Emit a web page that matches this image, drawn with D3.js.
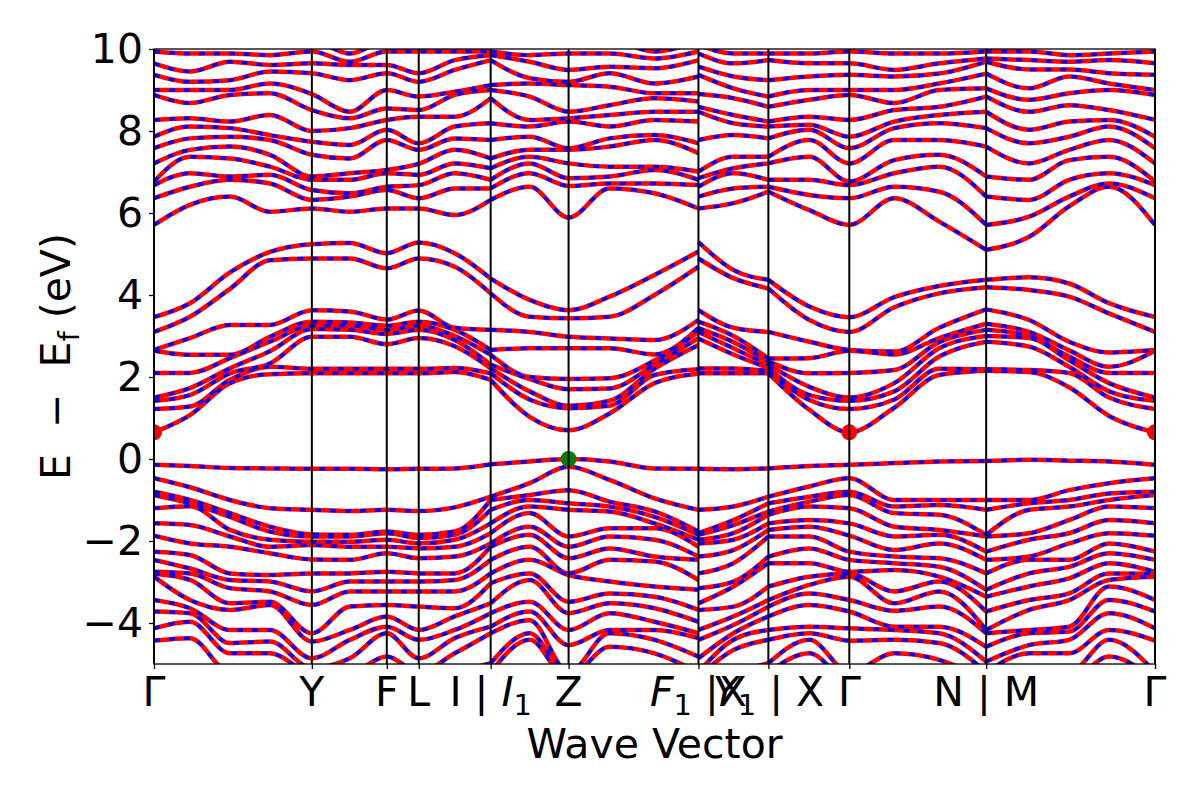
<!DOCTYPE html>
<html>
<head>
<meta charset="utf-8">
<script src="https://cdn.jsdelivr.net/npm/d3@7"></script>
<style>
  body { margin: 0; background: #fff; }
  text { font-family: "DejaVu Sans", sans-serif; }
</style>
</head>
<body>
<svg id="bands" width="1200" height="800"></svg>
<script>
// distance along the k-path of each sampled point (repeated value = branch break)
var kPoints = [0, 0.36, 0.76, 1.16, 1.58, 1.96, 2.33, 2.65, 3.01, 3.37,
               3.37, 3.76, 4.15, 4.56, 5.01, 5.45,
               5.45, 5.80, 6.15,
               6.15, 6.56, 6.96, 7.41, 7.86, 8.33,
               8.33, 8.76, 9.16, 9.56, 10.02];
var branches = [[0, 9], [10, 15], [16, 18], [19, 24], [25, 29]];

var tickK = [0, 1.58, 2.33, 2.65, 3.37, 4.15, 5.45, 6.15, 6.96, 8.33, 10.02];
// label pieces: [text, style]  style: "" upright, "i" italic, "s" subscript
var tickLabels = [
  [["Γ", ""]],
  [["Y", ""]],
  [["F", ""]],
  [["L", ""]],
  [["I | ", ""], ["I", "i"], ["1", "s"]],
  [["Z", ""]],
  [["F", "i"], ["1", "s"], [" |X", ""]],
  [["Y", "i"], ["1", "s"], [" | X", ""]],
  [["Γ", ""]],
  [["N | M", ""]],
  [["Γ", ""]]
];
var energyTicks = [-4, -2, 0, 2, 4, 6, 8, 10];

// energies (eV) at each k-point, listed from the top of each group down
var gammaValence = [-0.14, -0.47, -0.8, -0.88, -1.2, -1.57, -1.87, -2.26, -2.46, -2.75, -2.8, -2.87, -3.44, -3.72, -4.13, -4.43, -5.2, -5.4];
var gammaLow = [0.65, 1.22, 1.42, 1.5, 2.1, 2.64, 2.66, 3.1, 3.46];
var gammaHigh = [5.71, 6.36, 6.68, 6.77, 7.21, 7.58, 7.86, 8.27, 8.88, 9.0, 9.37, 9.65, 9.94, 10.2];

var valence = [
  gammaValence,
  [-0.17, -0.69, -1.0, -1.08, -1.15, -1.61, -2.06, -2.34, -2.67, -2.79, -2.95, -3.44, -3.64, -3.76, -3.97, -4.37, -5.2, -5.4],
  [-0.22, -1.0, -1.32, -1.41, -1.73, -1.89, -2.14, -2.79, -2.95, -3.15, -3.52, -3.68, -4.17, -4.49, -4.74, -5.2, -5.4, -5.6],
  [-0.23, -1.2, -1.65, -1.77, -1.97, -2.14, -2.3, -2.83, -2.99, -3.23, -3.48, -3.56, -4.17, -4.45, -4.74, -5.2, -5.4, -5.6],
  [-0.24, -1.24, -1.84, -1.89, -2.02, -2.1, -2.45, -2.79, -3.23, -3.56, -4.25, -4.45, -4.86, -5.1, -5.2, -5.3, -5.4, -5.6],
  [-0.24, -1.27, -1.85, -1.89, -2.02, -2.14, -2.46, -2.79, -2.99, -3.23, -3.6, -4.17, -4.41, -4.86, -5.2, -5.3, -5.4, -5.6],
  [-0.25, -1.24, -1.77, -1.81, -1.97, -2.14, -2.3, -2.75, -2.99, -3.23, -3.56, -3.84, -4.09, -4.25, -4.82, -5.2, -5.4, -5.6],
  [-0.24, -1.27, -1.85, -1.93, -2.06, -2.18, -2.42, -2.79, -2.99, -3.23, -3.6, -4.17, -4.41, -4.86, -5.2, -5.3, -5.4, -5.6],
  [-0.23, -1.18, -1.77, -1.85, -1.97, -2.14, -2.38, -2.79, -2.95, -3.23, -3.64, -3.84, -4.17, -4.37, -4.74, -5.2, -5.4, -5.6],
  [-0.13, -0.92, -1.0, -1.24, -1.57, -1.81, -2.06, -2.14, -2.46, -2.79, -3.03, -3.52, -3.76, -4.09, -4.25, -4.98, -5.2, -5.4],
  [-0.13, -0.92, -1.0, -1.24, -1.57, -1.81, -2.06, -2.14, -2.46, -2.79, -3.03, -3.52, -3.76, -4.09, -4.25, -4.98, -5.2, -5.4],
  [-0.06, -0.59, -0.88, -1.0, -1.16, -1.32, -1.65, -1.85, -2.14, -2.46, -2.79, -2.95, -3.48, -3.72, -3.93, -4.25, -4.41, -5.2],
  [0, -0.19, -0.76, -1.08, -1.24, -1.89, -2.14, -2.42, -2.79, -2.83, -3.48, -3.76, -4.17, -4.54, -5.2, -5.3, -5.4, -5.6],
  [-0.06, -0.51, -1.04, -1.16, -1.28, -1.69, -1.89, -2.18, -2.46, -2.99, -3.28, -3.52, -3.76, -4.17, -4.25, -4.58, -5.2, -5.4],
  [-0.23, -0.96, -1.28, -1.41, -1.57, -1.69, -1.97, -2.38, -2.5, -3.11, -3.36, -3.64, -3.97, -4.17, -4.41, -4.74, -5.2, -5.4],
  [-0.24, -1.24, -1.77, -1.85, -1.97, -2.14, -2.38, -2.46, -2.95, -3.19, -3.68, -3.97, -4.25, -4.37, -4.82, -5.2, -5.4, -5.6],
  [-0.24, -1.24, -1.81, -1.85, -1.97, -2.06, -2.38, -2.79, -3.15, -3.52, -3.68, -4.17, -4.41, -4.86, -5.2, -5.3, -5.4, -5.6],
  [-0.25, -1.16, -1.49, -1.61, -1.81, -1.97, -2.22, -2.54, -2.99, -3.11, -3.6, -3.84, -4.05, -4.25, -4.41, -4.66, -5.2, -5.4],
  [-0.23, -0.92, -1.08, -1.28, -1.36, -1.57, -1.73, -1.89, -2.38, -2.54, -3.11, -3.44, -3.6, -3.84, -4.17, -4.41, -4.98, -5.2],
  [-0.23, -0.92, -1.08, -1.28, -1.36, -1.57, -1.73, -1.89, -2.38, -2.54, -3.11, -3.44, -3.6, -3.84, -4.17, -4.41, -4.98, -5.2],
  [-0.17, -0.67, -0.92, -1.04, -1.16, -1.49, -1.65, -1.89, -2.18, -2.54, -2.87, -3.07, -3.28, -3.56, -4.09, -4.25, -4.41, -4.74],
  gammaValence,
  [-0.1, -1.0, -1.16, -1.32, -1.65, -1.89, -2.22, -2.38, -2.54, -2.71, -3.23, -3.52, -3.7, -4.09, -4.17, -4.41, -4.74, -5.2],
  [-0.06, -1.0, -1.12, -1.36, -1.73, -1.85, -2.06, -2.42, -2.63, -2.87, -2.99, -3.23, -3.6, -4.09, -4.25, -4.49, -4.9, -5.2],
  [-0.05, -1.0, -1.24, -1.85, -1.89, -2.26, -2.46, -2.79, -3.19, -3.36, -3.72, -4.17, -4.25, -4.58, -4.94, -5.2, -5.4, -5.6],
  [-0.05, -1.0, -1.24, -1.85, -1.89, -2.26, -2.46, -2.79, -3.19, -3.36, -3.72, -4.17, -4.25, -4.58, -4.94, -5.2, -5.4, -5.6],
  [-0.02, -1.0, -1.08, -1.24, -1.81, -1.97, -2.38, -2.46, -2.79, -3.11, -3.44, -3.68, -4.17, -4.25, -4.54, -4.74, -5.2, -5.4],
  [-0.04, -0.76, -1.0, -1.16, -1.49, -1.81, -2.06, -2.46, -2.63, -2.91, -3.28, -3.44, -4.09, -4.21, -4.41, -4.74, -5.2, -5.4],
  [-0.06, -0.59, -0.84, -1.0, -1.16, -1.49, -1.81, -2.06, -2.3, -2.54, -2.79, -2.95, -3.11, -3.44, -3.76, -4.17, -4.41, -4.82],
  gammaValence
];

var conductionLow = [
  gammaLow,
  [1.07, 1.28, 1.56, 1.73, 2.1, 2.54, 2.95, 3.47, 3.8],
  [1.85, 1.93, 2.09, 2.21, 2.46, 2.54, 3.27, 4.15, 4.55],
  [2.07, 2.25, 2.33, 2.63, 2.86, 2.98, 3.27, 4.85, 5.05],
  [2.09, 2.2, 2.98, 3.17, 3.25, 3.35, 3.63, 4.89, 5.24],
  [2.09, 2.2, 2.98, 3.15, 3.25, 3.33, 3.6, 4.89, 5.27],
  [2.09, 2.2, 2.8, 3.05, 3.15, 3.25, 3.4, 4.65, 5.02],
  [2.09, 2.2, 2.95, 3.15, 3.25, 3.35, 3.62, 4.89, 5.28],
  [2.12, 2.22, 2.75, 2.9, 3.0, 3.15, 3.2, 4.69, 5.02],
  [1.93, 2.09, 2.21, 2.3, 2.54, 2.66, 3.15, 4.04, 4.4],
  [1.93, 2.09, 2.21, 2.3, 2.54, 2.66, 3.15, 4.04, 4.4],
  [1.03, 1.45, 1.65, 1.95, 2.0, 2.7, 3.1, 3.47, 3.88],
  [0.7, 1.24, 1.3, 1.7, 1.95, 2.7, 2.98, 3.43, 3.63],
  [1.11, 1.3, 1.42, 1.72, 1.97, 2.7, 2.94, 3.47, 3.96],
  [1.85, 2.05, 2.2, 2.3, 2.4, 2.55, 2.9, 4.0, 4.49],
  [2.08, 2.19, 2.78, 2.95, 3.1, 3.2, 3.39, 4.69, 5.06],
  [2.09, 2.21, 2.94, 3.1, 3.19, 3.35, 3.63, 4.89, 5.29],
  [2.09, 2.21, 2.55, 2.7, 2.85, 3.0, 3.2, 4.41, 4.61],
  [2.09, 2.15, 2.22, 2.3, 2.38, 2.45, 3.1, 4.16, 4.37],
  [2.09, 2.15, 2.22, 2.3, 2.38, 2.45, 3.1, 4.16, 4.37],
  [1.2, 1.44, 1.56, 1.76, 2.09, 2.46, 2.86, 3.39, 3.72],
  gammaLow,
  [1.25, 1.45, 1.65, 1.85, 2.17, 2.55, 2.62, 3.7, 3.95],
  [2.05, 2.2, 2.5, 2.7, 2.85, 2.95, 3.2, 4.04, 4.22],
  [2.15, 2.19, 2.86, 3.0, 3.15, 3.3, 3.65, 4.19, 4.37],
  [2.15, 2.19, 2.86, 3.0, 3.15, 3.3, 3.65, 4.19, 4.37],
  [2.12, 2.17, 2.74, 2.95, 3.0, 3.1, 3.39, 4.12, 4.43],
  [1.75, 2.1, 2.25, 2.41, 2.5, 2.65, 2.86, 3.96, 4.28],
  [1.05, 1.5, 1.65, 1.85, 2.1, 2.25, 2.6, 3.55, 3.8],
  gammaLow
];

var conductionHigh = [
  gammaHigh,
  [6.2, 6.64, 6.97, 7.37, 7.54, 7.82, 8.11, 8.31, 8.68, 9.0, 9.2, 9.45, 9.89, 10.2],
  [6.4, 6.81, 6.89, 7.33, 7.62, 7.86, 8.07, 8.23, 8.88, 9.0, 9.24, 9.69, 9.89, 10.2],
  [6.03, 6.72, 6.93, 7.13, 7.42, 7.78, 7.9, 8.39, 8.92, 9.16, 9.45, 9.61, 9.85, 10.1],
  [6.11, 6.32, 6.56, 6.81, 6.89, 7.42, 7.74, 8.0, 8.51, 8.9, 9.41, 9.65, 9.94, 10.2],
  [6.03, 6.4, 6.48, 6.81, 6.97, 7.33, 7.66, 8.07, 8.31, 8.47, 9.24, 9.61, 9.69, 9.89],
  [6.11, 6.56, 6.64, 6.97, 7.05, 7.78, 8.03, 8.27, 8.55, 9.0, 9.41, 9.61, 9.94, 10.2],
  [6.11, 6.36, 6.68, 6.93, 7.2, 7.54, 7.7, 8.35, 8.51, 8.84, 9.2, 9.41, 9.94, 10.2],
  [5.95, 6.6, 6.97, 7.21, 7.54, 7.82, 8.11, 8.35, 8.88, 8.96, 9.49, 9.73, 9.94, 10.2],
  [6.32, 6.6, 6.81, 7.09, 7.33, 7.78, 8.19, 8.8, 9.0, 9.12, 9.73, 9.85, 9.94, 10.2],
  [6.32, 6.6, 6.81, 7.09, 7.33, 7.78, 8.19, 8.8, 9.0, 9.12, 9.73, 9.85, 9.94, 10.2],
  [6.64, 6.97, 7.21, 7.37, 7.54, 7.86, 8.11, 8.27, 8.84, 9.16, 9.29, 9.69, 9.85, 10.1],
  [5.89, 6.66, 6.85, 7.21, 7.54, 7.58, 8.23, 8.31, 8.47, 9.12, 9.2, 9.49, 9.89, 10.2],
  [6.6, 6.72, 6.89, 7.13, 7.62, 7.82, 8.11, 8.39, 8.63, 9.08, 9.41, 9.57, 9.89, 10.2],
  [6.48, 6.72, 7.05, 7.13, 7.78, 7.9, 8.27, 8.47, 8.8, 8.92, 9.16, 9.53, 9.77, 9.94],
  [6.11, 6.68, 6.81, 7.01, 7.46, 7.7, 8.23, 8.47, 8.72, 8.92, 9.33, 9.73, 9.94, 10.2],
  [6.11, 6.4, 6.64, 6.85, 7.01, 7.78, 8.47, 8.59, 8.9, 9.37, 9.57, 9.89, 10.1, 10.3],
  [6.24, 6.6, 6.97, 7.09, 7.37, 7.9, 8.19, 8.39, 8.8, 9.04, 9.33, 9.65, 9.89, 10.2],
  [6.52, 6.64, 6.81, 7.21, 7.37, 7.82, 8.11, 8.23, 8.59, 8.84, 9.24, 9.73, 9.89, 10.2],
  [6.52, 6.64, 6.81, 7.21, 7.37, 7.82, 8.11, 8.23, 8.59, 8.84, 9.24, 9.73, 9.89, 10.2],
  [6.07, 6.44, 6.81, 7.37, 7.78, 8.03, 8.15, 8.35, 8.76, 9.0, 9.33, 9.65, 9.89, 10.2],
  gammaHigh,
  [6.36, 6.64, 6.97, 7.29, 7.78, 8.07, 8.23, 8.51, 8.68, 9.0, 9.33, 9.49, 9.89, 10.2],
  [5.79, 6.52, 7.13, 7.42, 7.78, 8.19, 8.39, 8.59, 9.0, 9.16, 9.4, 9.65, 9.89, 10.2],
  [5.1, 5.71, 6.4, 6.89, 7.62, 8.07, 8.47, 8.84, 9.04, 9.4, 9.69, 9.77, 9.94, 10.2],
  [5.1, 5.71, 6.4, 6.89, 7.62, 8.07, 8.47, 8.84, 9.04, 9.4, 9.69, 9.77, 9.94, 10.2],
  [5.42, 5.91, 6.32, 6.81, 7.21, 7.7, 8.03, 8.47, 8.76, 9.04, 9.5, 9.73, 9.94, 10.2],
  [6.16, 6.4, 6.81, 7.29, 7.54, 7.86, 8.23, 8.63, 8.92, 9.33, 9.5, 9.69, 9.85, 10.2],
  [6.64, 6.72, 6.97, 7.37, 7.78, 8.11, 8.27, 8.51, 9.0, 9.16, 9.41, 9.73, 9.89, 10.2],
  gammaHigh
];

// band edges marked with dots: [k, E]
var cbmPoints = [[0, 0.65], [6.96, 0.65], [10.02, 0.65]];
var vbmPoints = [[4.15, 0]];

var dimensions = {
    width: 1200,
    height: 800,
    margin: { top: 49, right: 45, bottom: 136, left: 154 }
}
var plotRight = dimensions.width - dimensions.margin.right
var plotBottom = dimensions.height - dimensions.margin.bottom
var fontSize = 41

var svg = d3.select("#bands")

var xScale = d3.scaleLinear()
               .domain([0, d3.max(kPoints)])
               .range([dimensions.margin.left, plotRight])

var yScale = d3.scaleLinear()
               .domain([-5, 10])
               .range([plotBottom, dimensions.margin.top])

svg.append("defs").append("clipPath").attr("id", "plotClip")
   .append("rect")
   .attr("x", dimensions.margin.left)
   .attr("y", dimensions.margin.top)
   .attr("width", plotRight - dimensions.margin.left)
   .attr("height", plotBottom - dimensions.margin.top)

// turn per-k columns into one list of points per band
function toBands(cols) {
    var n = cols[0].length
    return d3.range(n).map(b => cols.map((c, i) => ({ k: kPoints[i], e: c[b] })))
}

var allBands = toBands(valence).concat(toBands(conductionLow), toBands(conductionHigh))

var line = d3.line()
             .x(d => xScale(d.k))
             .y(d => yScale(d.e))
             .curve(d3.curveMonotoneX)

var pieces = []
allBands.forEach(band => {
    branches.forEach(br => pieces.push(band.slice(br[0], br[1] + 1)))
})

var plot = svg.append("g").attr("clip-path", "url(#plotClip)")

plot.append("g")
    .selectAll("path")
    .data(pieces)
    .enter()
    .append("path")
    .attr("d", d => line(d))
    .attr("fill", "none")
    .attr("stroke", "#ff0000")
    .attr("stroke-width", 4.5)

plot.append("g")
    .selectAll("path")
    .data(pieces)
    .enter()
    .append("path")
    .attr("d", d => line(d))
    .attr("fill", "none")
    .attr("stroke", "#0000ff")
    .attr("stroke-width", 3.5)
    .attr("stroke-dasharray", "6,9")

// high-symmetry vertical lines
svg.append("g")
   .selectAll("line")
   .data(tickK)
   .enter()
   .append("line")
   .attr("x1", d => xScale(d))
   .attr("x2", d => xScale(d))
   .attr("y1", dimensions.margin.top)
   .attr("y2", plotBottom)
   .attr("stroke", "black")
   .attr("stroke-width", 2)

plot.append("g")
    .selectAll("circle")
    .data(cbmPoints)
    .enter()
    .append("circle")
    .attr("cx", d => xScale(d[0]))
    .attr("cy", d => yScale(d[1]))
    .attr("r", 8)
    .attr("fill", "#ff0000")

plot.append("g")
    .selectAll("circle")
    .data(vbmPoints)
    .enter()
    .append("circle")
    .attr("cx", d => xScale(d[0]))
    .attr("cy", d => yScale(d[1]))
    .attr("r", 8)
    .attr("fill", "green")

// frame
svg.append("rect")
   .attr("x", dimensions.margin.left)
   .attr("y", dimensions.margin.top)
   .attr("width", plotRight - dimensions.margin.left)
   .attr("height", plotBottom - dimensions.margin.top)
   .attr("fill", "none")
   .attr("stroke", "black")
   .attr("stroke-width", 1.3)

var yAxisGen = d3.axisLeft().scale(yScale).tickValues(energyTicks).tickSize(5).tickPadding(6)
var yAxis = svg.append("g")
               .attr("transform", `translate(${dimensions.margin.left},0)`)
               .call(yAxisGen)
yAxis.select(".domain").remove()
yAxis.attr("font-size", fontSize).attr("font-family", "DejaVu Sans")
yAxis.selectAll("line").attr("stroke-width", 1.3)

var xAxisGen = d3.axisBottom().scale(xScale).tickValues(tickK).tickSize(5).tickFormat("")
var xAxis = svg.append("g")
               .attr("transform", `translate(0,${plotBottom})`)
               .call(xAxisGen)
xAxis.select(".domain").remove()
xAxis.selectAll("line").attr("stroke-width", 1.3)

var labels = svg.append("g")
                .selectAll("text")
                .data(tickK)
                .enter()
                .append("text")
                .attr("x", d => xScale(d))
                .attr("y", plotBottom + 42)
                .attr("text-anchor", "middle")
                .attr("font-size", fontSize)
                .style("white-space", "pre")

labels.each(function(d, i) {
    var t = d3.select(this)
    var shifted = false
    tickLabels[i].forEach(p => {
        var s = t.append("tspan").text(p[0])
        if (p[1] === "i") s.attr("font-style", "italic")
        if (p[1] === "s") {
            s.attr("font-size", 29).attr("dy", 9)
            shifted = true
        } else if (shifted) {
            s.attr("dy", -9)
            shifted = false
        }
    })
})

svg.append("text")
   .attr("x", (dimensions.margin.left + plotRight) / 2)
   .attr("y", 758)
   .attr("text-anchor", "middle")
   .attr("font-size", fontSize)
   .text("Wave Vector")

var yLabel = svg.append("text")
                .attr("transform", `translate(70,${(dimensions.margin.top + plotBottom) / 2}) rotate(-90)`)
                .attr("text-anchor", "middle")
                .attr("font-size", fontSize)
                .style("white-space", "pre")
yLabel.append("tspan").text("E  \u2212  E")
yLabel.append("tspan").text("f").attr("font-size", 29).attr("dy", 9)
yLabel.append("tspan").text(" (eV)").attr("dy", -9)
</script>
</body>
</html>
